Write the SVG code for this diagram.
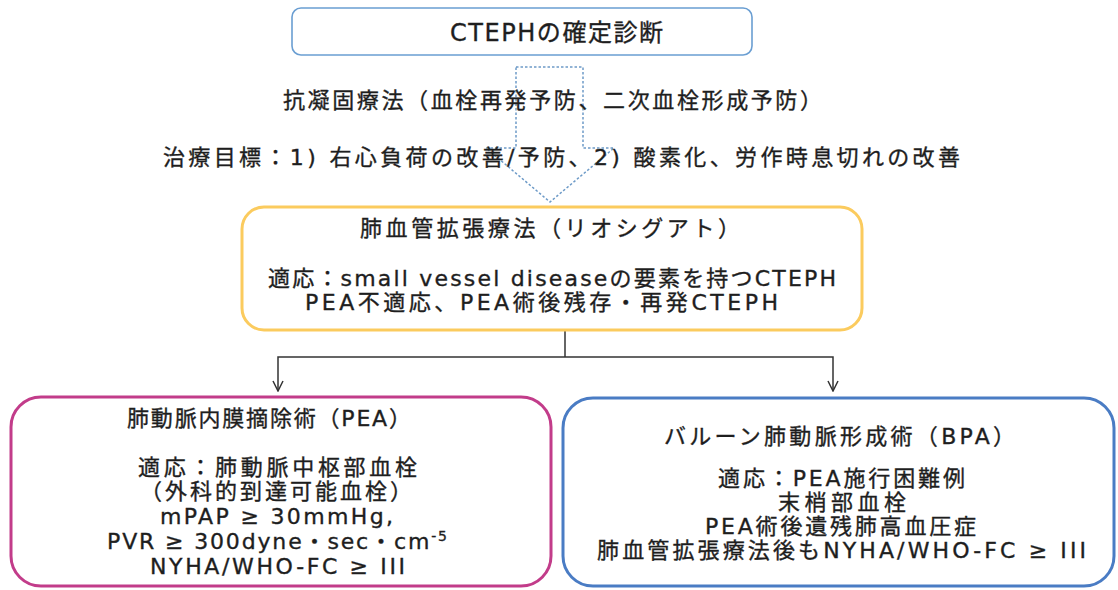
<svg xmlns="http://www.w3.org/2000/svg" width="1118" height="590" viewBox="0 0 1118 590">
<defs>
<style>
.t{font-family:"DejaVu Sans","Noto Sans CJK JP",sans-serif;font-size:22px;fill:#1e1e1e;stroke:#1e1e1e;stroke-width:0.35px}
.box{fill:#fff}
.conn{fill:none;stroke:#333;stroke-width:1.5}
</style>
<marker id="ah" viewBox="0 0 12 12" refX="11" refY="6" markerWidth="12" markerHeight="12" markerUnits="userSpaceOnUse" orient="auto">
<path d="M1,1 L11,6 L1,11" fill="none" stroke="#333" stroke-width="1.5"/>
</marker>
</defs>
<rect width="1118" height="590" fill="#fff"/>

<g id="node-diagnosis">
<rect class="box" x="292" y="8" width="460" height="47" rx="9" stroke="#6A9ED2" stroke-width="1.6"/>
<text class="t" x="450" y="41" style="font-size:24px" textLength="213" lengthAdjust="spacing">CTEPHの確定診断</text>
</g>

<g id="connectors">
<path d="M516,67 L583,67 L583,148 L614,148 L550,202 L486,148 L516,148 Z" fill="none" stroke="#6E9BC8" stroke-width="1.5" stroke-dasharray="2.5,2"/>
<path class="conn" d="M565,331 L565,357"/>
<path class="conn" d="M565,357 L278,357 L278,391" marker-end="url(#ah)"/>
<path class="conn" d="M565,357 L833,357 L833,391" marker-end="url(#ah)"/>
</g>

<g id="label-anticoag">
<text class="t" x="283" y="108" textLength="539" lengthAdjust="spacing">抗凝固療法（血栓再発予防、二次血栓形成予防）</text>
<text class="t" x="163" y="165" textLength="797" lengthAdjust="spacing">治療目標：1) 右心負荷の改善/予防、2) 酸素化、労作時息切れの改善</text>
</g>

<g id="node-vasodilator">
<rect class="box" x="242" y="207" width="620" height="123" rx="22" stroke="#FBCB5E" stroke-width="3"/>
<text class="t" x="360" y="236" textLength="380" lengthAdjust="spacing">肺血管拡張療法（リオシグアト）</text>
<text class="t" x="268" y="286" textLength="568" lengthAdjust="spacing">適応：small vessel diseaseの要素を持つCTEPH</text>
<text class="t" x="305" y="310" textLength="473" lengthAdjust="spacing">PEA不適応、PEA術後残存・再発CTEPH</text>
</g>

<g id="node-pea">
<rect class="box" x="11" y="397" width="540" height="189" rx="30" stroke="#C23C8A" stroke-width="3"/>
<text class="t" x="127" y="426" textLength="284" lengthAdjust="spacing">肺動脈内膜摘除術（PEA）</text>
<text class="t" x="138" y="475" textLength="279" lengthAdjust="spacing">適応：肺動脈中枢部血栓</text>
<text class="t" x="140" y="499" textLength="272" lengthAdjust="spacing">（外科的到達可能血栓）</text>
<text class="t" x="160" y="524" textLength="233" lengthAdjust="spacing">mPAP ≥ 30mmHg,</text>
<text class="t" x="107" y="549" textLength="340" lengthAdjust="spacing">PVR ≥ 300dyne・sec・cm<tspan style="font-size:14px" dy="-8">-5</tspan></text>
<text class="t" x="150" y="574" textLength="255" lengthAdjust="spacing">NYHA/WHO-FC ≥ III</text>
</g>

<g id="node-bpa">
<rect class="box" x="563" y="398" width="551" height="188" rx="30" stroke="#4A7CC4" stroke-width="3"/>
<text class="t" x="664" y="444" textLength="351" lengthAdjust="spacing">バルーン肺動脈形成術（BPA）</text>
<text class="t" x="718" y="486" textLength="247" lengthAdjust="spacing">適応：PEA施行困難例</text>
<text class="t" x="778" y="510" textLength="128" lengthAdjust="spacing">末梢部血栓</text>
<text class="t" x="705" y="534" textLength="271" lengthAdjust="spacing">PEA術後遺残肺高血圧症</text>
<text class="t" x="597" y="558" textLength="489" lengthAdjust="spacing">肺血管拡張療法後もNYHA/WHO-FC ≥ III</text>
</g>
</svg>
